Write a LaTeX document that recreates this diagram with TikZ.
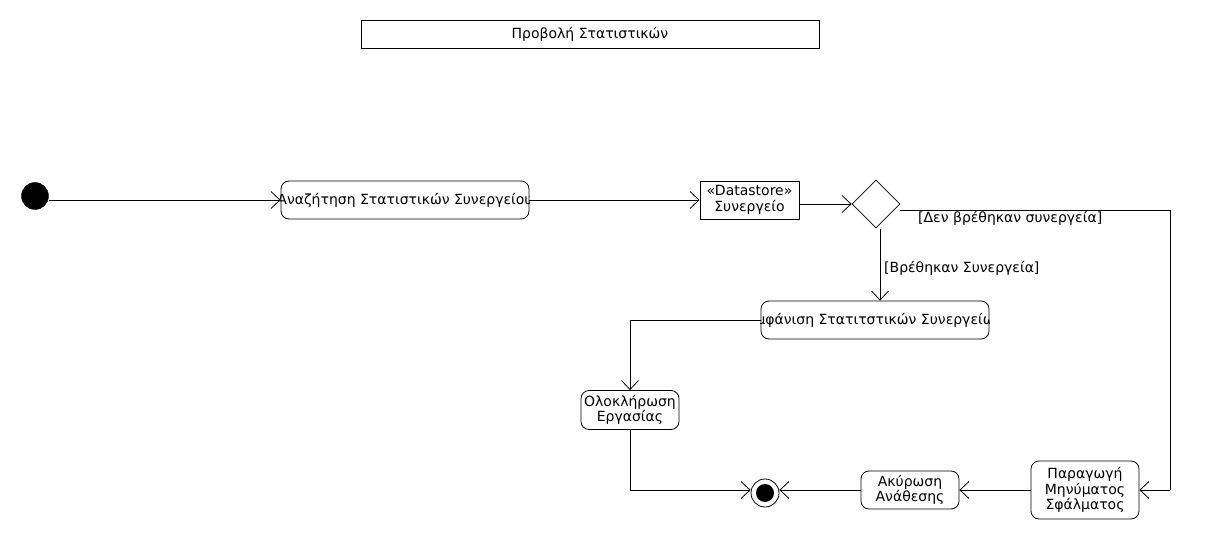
\documentclass[tikz,border=0pt]{standalone}
\usepackage{fontspec}
\setmainfont{DejaVu Sans}
\usetikzlibrary{arrows.meta,shapes.geometric}
\begin{document}
\begin{tikzpicture}[x=1pt,y=-1pt,
  every node/.style={font=\fontsize{14}{15.5}\selectfont, inner sep=0pt},
  action/.style={draw, rounded corners=8pt, align=center, line width=0.8pt},
  box/.style={draw, align=center, line width=0.8pt},
  flow/.style={draw, line width=0.8pt, -{Straight Barb[length=9pt,width=17pt,line width=0.8pt]}},
  lbl/.style={anchor=west}]
\useasboundingbox (0,0) rectangle (1210,540);
\node[box, minimum width=458pt, minimum height=28pt] (title) at (590,34) {Προβολή Στατιστικών};
\node[circle, fill=black, draw, minimum size=27pt] (init) at (35,196) {};
\node[action, minimum width=248pt, minimum height=38pt] (a1) at (405,200) {};
\begin{scope}
\clip (a1.south west) rectangle (a1.north east);
\node at (a1) {Αναζήτηση Στατιστικών Συνεργείου};
\end{scope}
\node[box, minimum width=99pt, minimum height=38pt] (ds) at (749.5,200) {«Datastore»\\Συνεργείο};
\node[diamond, draw, line width=0.8pt, minimum width=48pt, minimum height=48pt] (dec) at (876,204) {};
\node[action, minimum width=228pt, minimum height=38pt] (a2) at (875,320) {};
\begin{scope}
\clip (a2.south west) rectangle (a2.north east);
\node at (a2) {Εμφάνιση Στατιτστικών Συνεργείων};
\end{scope}
\node[action, minimum width=98pt, minimum height=39pt] (done) at (630,410) {Ολοκλήρωση\\Εργασίας};
\node[action, minimum width=98pt, minimum height=38pt] (cancel) at (910,490) {Ακύρωση\\Ανάθεσης};
\node[action, minimum width=108pt, minimum height=58pt] (err) at (1085,490) {Παραγωγή\\Μηνύματος\\Σφάλματος};
\node[circle, draw, line width=0.8pt, minimum size=28pt] (final) at (765,493) {};
\node[circle, fill=black, minimum size=18pt] (finaldot) at (final) {};
\coordinate (c1) at (1170,210);
\coordinate (c2) at (1170,490);
\coordinate (c3) at (630,320);
\coordinate (c4) at (630,490);
\draw[flow] (init.east |- 0,200) -- (a1.west |- 0,200);
\draw[flow] (a1.east |- 0,200) -- (ds.west |- 0,200);
\draw[flow] (ds.east |- dec.west) -- (dec.west);
\draw[line width=0.8pt] (dec.east |- 0,210) -- (c1) -- (c2);
\draw[flow] (c2) -- (err.east |- 0,490);
\draw[flow] (880,229) -- (a2.north -| 880,0);
\draw[line width=0.8pt] (a2.west) -- (c3);
\draw[flow] (c3) -- (done.north);
\draw[line width=0.8pt] (done.south) -- (c4);
\draw[flow] (c4) -- (final.west |- 0,490);
\draw[flow] (err.west |- 0,490) -- (cancel.east |- 0,490);
\draw[flow] (cancel.west |- 0,490) -- (final.east |- 0,490);
\node[lbl] (l1) at (918,218) {[Δεν βρέθηκαν συνεργεία]};
\node[lbl] (l2) at (884,268) {[Βρέθηκαν Συνεργεία]};
\end{tikzpicture}
\end{document}
